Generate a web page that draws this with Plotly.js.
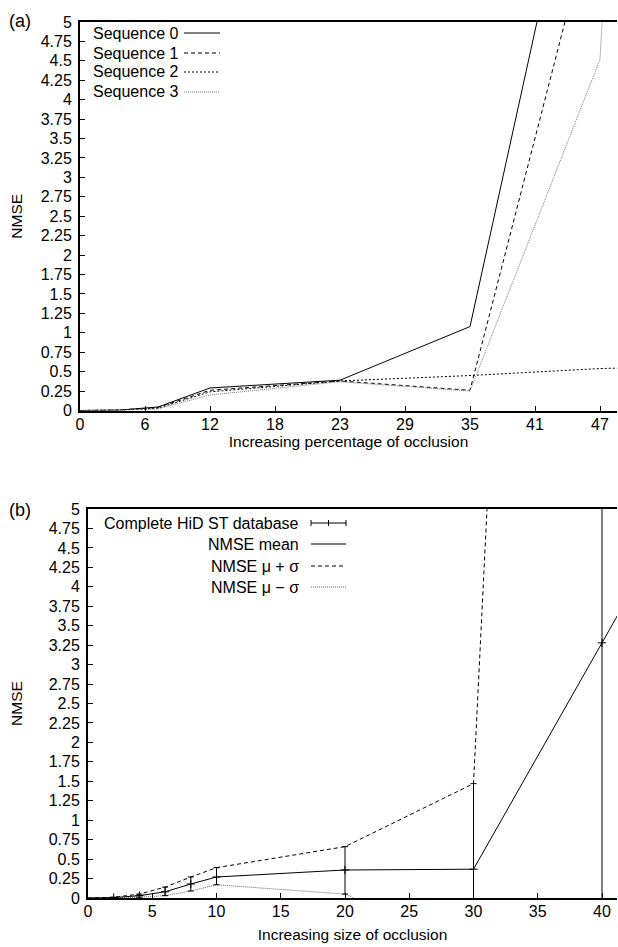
<!DOCTYPE html>
<html>
<head>
<meta charset="utf-8">
<script src="https://cdn.plot.ly/plotly-3.0.1.min.js"></script>
<style>
  html, body { margin: 0; padding: 0; background: #fff; }
  #chart { width: 618px; height: 947px; }
</style>
</head>
<body>
<div id="chart"></div>
<script>
// ---------- Data: panel (a) ----------
const occlusionPct = [0, 3.5, 7.05, 11.75, 23.5, 35.25, 47, 53];
const seq0 = [0, 0.005, 0.045, 0.29, 0.39, 1.08, 8.69, 12.6];
const seq1 = [0, 0.005, 0.04, 0.26, 0.38, 0.26, 6.75, 10.1];
const seq2 = [0, 0.004, 0.03, 0.24, 0.38, 0.45, 0.54, 0.56];
const seq3 = [0, 0.003, 0.02, 0.20, 0.37, 0.25, 4.52, 20];
const pctTickVals = [0, 5.875, 11.75, 17.625, 23.5, 29.375, 35.25, 41.125, 47];
const pctTickText = ['0', '6', '12', '18', '23', '29', '35', '41', '47'];

// ---------- Data: panel (b) ----------
const occlusionSize = [0, 2, 4, 6, 8, 10, 20, 30, 40, 50];
const nmseMean  = [0, 0.005, 0.03, 0.08, 0.18, 0.27, 0.36, 0.37, 3.28, 6.2];
const nmseUpper = [0, 0.01, 0.05, 0.14, 0.27, 0.39, 0.66, 1.47, 35, 70];
const nmseLower = [0, 0.0, 0.01, 0.03, 0.09, 0.17, 0.05, -0.71, -28.5, -60];
const sizeTickVals = [0, 5, 10, 15, 20, 25, 30, 35, 40];

// ---------- Shared y ticks ----------
const nmseTickVals = [0, 0.25, 0.5, 0.75, 1, 1.25, 1.5, 1.75, 2, 2.25, 2.5, 2.75, 3, 3.25, 3.5, 3.75, 4, 4.25, 4.5, 4.75, 5];
const nmseTickText = ['0', '0.25', '0.5', '0.75', '1', '1.25', '1.5', '1.75', '2', '2.25', '2.5', '2.75', '3', '3.25', '3.5', '3.75', '4', '4.25', '4.5', '4.75', '5'];

const seqNames = ['Sequence 0', 'Sequence 1', 'Sequence 2', 'Sequence 3'];
const seqData = [seq0, seq1, seq2, seq3];
const bNames = ['Complete HiD ST database', 'NMSE mean', 'NMSE \u03bc + \u03c3', 'NMSE \u03bc \u2212 \u03c3'];

// ---------- Styles ----------
const W = 618, H = 947;
const FONT = 'Liberation Sans, Arial, Helvetica, sans-serif';
const seqStyles = [
  {color: '#000', dash: 'solid', width: 1},
  {color: '#000', dash: '4px,3px', width: 1},
  {color: '#000', dash: '2px,2px', width: 1},
  {color: '#777', dash: '1px,1px', width: 1}
];
const meanStyle  = {color: '#000', dash: 'solid', width: 1};
const upperStyle = {color: '#000', dash: '4px,3px', width: 1};
const lowerStyle = {color: '#666', dash: '1px,1px', width: 1};

function px(x) { return x / W; }
function py(y) { return 1 - y / H; }

const traces = [];
seqData.forEach((s, i) => {
  traces.push({
    type: 'scatter', mode: 'lines', name: seqNames[i],
    x: occlusionPct, y: s, xaxis: 'x', yaxis: 'y',
    line: seqStyles[i], showlegend: false, hoverinfo: 'skip'
  });
});

traces.push({
  type: 'scatter', mode: 'lines', name: bNames[2],
  x: occlusionSize, y: nmseUpper, xaxis: 'x2', yaxis: 'y2',
  line: upperStyle, showlegend: false, hoverinfo: 'skip'
});
traces.push({
  type: 'scatter', mode: 'lines', name: bNames[3],
  x: occlusionSize, y: nmseLower, xaxis: 'x2', yaxis: 'y2',
  line: lowerStyle, showlegend: false, hoverinfo: 'skip'
});
traces.push({
  type: 'scatter', mode: 'lines', name: bNames[1],
  x: occlusionSize, y: nmseMean, xaxis: 'x2', yaxis: 'y2',
  line: meanStyle, showlegend: false, hoverinfo: 'skip'
});
traces.push({
  type: 'scatter', mode: 'markers', name: bNames[0],
  x: occlusionSize.slice(1), y: nmseMean.slice(1), xaxis: 'x2', yaxis: 'y2',
  marker: {symbol: 'cross-thin-open', size: 6, color: '#000', line: {color: '#000', width: 1}},
  error_y: {
    type: 'data', symmetric: false,
    array: nmseUpper.slice(1).map((u, i) => u - nmseMean[i + 1]),
    arrayminus: nmseLower.slice(1).map((l, i) => nmseMean[i + 1] - l),
    width: 3, thickness: 1, color: '#000'
  },
  showlegend: false, hoverinfo: 'skip'
});

const tickFont = {family: FONT, size: 16, color: '#000'};
function xAxis(domain, range, tv, tt, title, standoff) {
  return {
    domain: domain, range: range, tickmode: 'array', tickvals: tv, ticktext: tt,
    ticks: 'inside', ticklen: 5, tickwidth: 1, tickcolor: '#000',
    showline: true, linewidth: 2, linecolor: '#000', mirror: true,
    showgrid: false, zeroline: false, tickfont: tickFont, ticklabelstandoff: -2,
    title: {text: title, font: {family: FONT, size: 15.5, color: '#000'}, standoff: standoff},
    automargin: false, fixedrange: true
  };
}
function yAxis(domain, standoff) {
  return {
    domain: domain, range: [0, 5], tickmode: 'array', tickvals: nmseTickVals, ticktext: nmseTickText,
    ticks: 'inside', ticklen: 5, tickwidth: 1, tickcolor: '#000',
    showline: true, linewidth: 2, linecolor: '#000', mirror: false,
    showgrid: false, zeroline: false, tickfont: tickFont, ticklabelstandoff: 3,
    title: {text: 'NMSE', font: {family: FONT, size: 15.5, color: '#000'}, standoff: standoff},
    automargin: false, fixedrange: true
  };
}

const topL = 80, topT = 22, topB = 410.5, R = 617;
const botL = 88, botT = 509, botB = 898;
const topXMax = (R - topL) / 65 * 5.875;
const botXMax = (R - botL) / 12.85;

const shapes = [];
const annotations = [];
const legFont = {family: FONT, size: 16, color: '#000'};

// legend (a)
const aRows = [33, 53, 72, 92];
aRows.forEach((yy, i) => {
  annotations.push({xref: 'paper', yref: 'paper', x: px(91), y: py(yy), xanchor: 'left', yanchor: 'middle',
    text: seqNames[i], showarrow: false, font: legFont});
  shapes.push({type: 'line', xref: 'paper', yref: 'paper', x0: px(184), x1: px(220), y0: py(yy), y1: py(yy),
    line: seqStyles[i]});
});

// legend (b)
const bRows = [523, 544, 566, 587];
bRows.forEach((yy, i) => {
  annotations.push({xref: 'paper', yref: 'paper', x: px(301), y: py(yy), xanchor: 'right', yanchor: 'middle',
    text: bNames[i], showarrow: false, font: legFont});
});
const bStyles = [meanStyle, meanStyle, upperStyle, lowerStyle];
bRows.forEach((yy, i) => {
  shapes.push({type: 'line', xref: 'paper', yref: 'paper', x0: px(311), x1: px(346), y0: py(yy), y1: py(yy),
    line: bStyles[i]});
});
// error-bar sample caps and cross
shapes.push({type: 'line', xref: 'paper', yref: 'paper', x0: px(311), x1: px(311), y0: py(bRows[0] - 3), y1: py(bRows[0] + 3), line: {color: '#000', width: 1}});
shapes.push({type: 'line', xref: 'paper', yref: 'paper', x0: px(346), x1: px(346), y0: py(bRows[0] - 3), y1: py(bRows[0] + 3), line: {color: '#000', width: 1}});
shapes.push({type: 'line', xref: 'paper', yref: 'paper', x0: px(328.5), x1: px(328.5), y0: py(bRows[0] - 3), y1: py(bRows[0] + 3), line: {color: '#000', width: 1}});

// panel labels
annotations.push({xref: 'paper', yref: 'paper', x: px(7), y: py(21), xanchor: 'left', yanchor: 'middle',
  text: '(a)', showarrow: false, font: {family: FONT, size: 18, color: '#000'}});
annotations.push({xref: 'paper', yref: 'paper', x: px(7), y: py(510), xanchor: 'left', yanchor: 'middle',
  text: '(b)', showarrow: false, font: {family: FONT, size: 18, color: '#000'}});

const layout = {
  width: W, height: H,
  margin: {l: 0, r: 0, t: 0, b: 0, pad: 0},
  paper_bgcolor: '#fff', plot_bgcolor: '#fff',
  showlegend: false,
  font: {family: FONT, size: 15, color: '#000'},
  xaxis: xAxis([px(topL), px(R)], [0, topXMax], pctTickVals, pctTickText, 'Increasing percentage of occlusion', 0),
  yaxis: yAxis([py(topB), py(topT)], 14),
  xaxis2: xAxis([px(botL), px(R)], [0, botXMax], sizeTickVals, sizeTickVals.map(String), 'Increasing size of occlusion', 10),
  yaxis2: yAxis([py(botB), py(botT)], 22),
  shapes: shapes,
  annotations: annotations
};
layout.xaxis.anchor = 'y';
layout.yaxis.anchor = 'x';
layout.xaxis2.anchor = 'y2';
layout.yaxis2.anchor = 'x2';

Plotly.newPlot('chart', traces, layout, {staticPlot: true, displayModeBar: false});
</script>
</body>
</html>
